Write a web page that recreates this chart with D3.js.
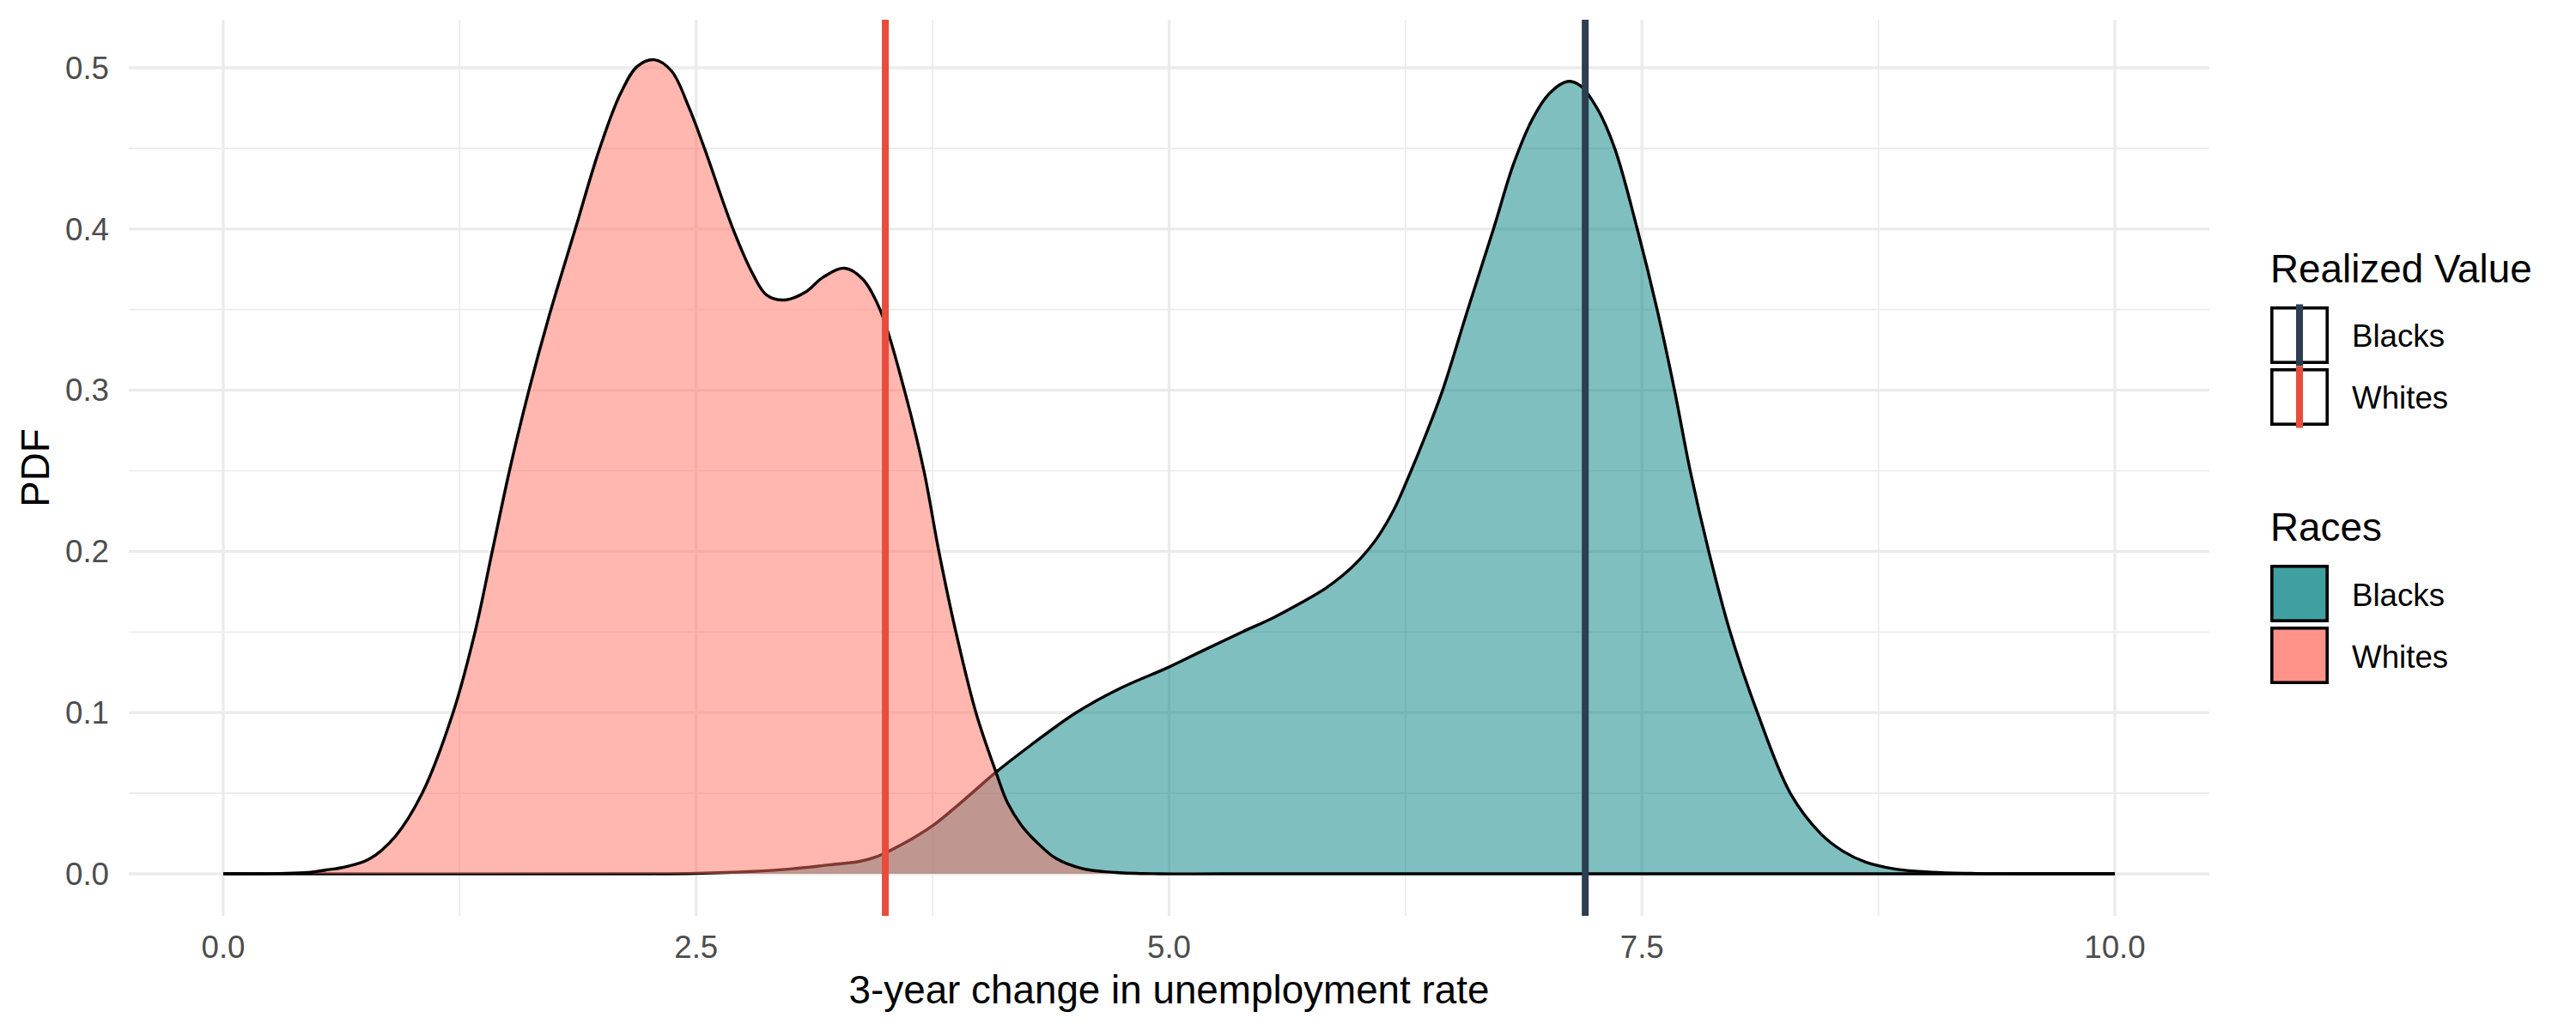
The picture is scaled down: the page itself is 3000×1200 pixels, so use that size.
<!DOCTYPE html>
<html>
<head>
<meta charset="utf-8">
<script src="https://cdn.jsdelivr.net/npm/d3@7"></script>
<style>
  html, body { margin: 0; padding: 0; background: #ffffff; }
  svg { display: block; font-family: "Liberation Sans", Arial, sans-serif; }
</style>
</head>
<body>
<svg id="chart" width="3000" height="1200"></svg>
<script>
// ---------- data ----------
const races = ["Blacks", "Whites"];
const raceFill = ["#008080", "#FF6F61"];
const lineColor = ["#2C3E50", "#E74C3C"];
const realizedValue = [7.2, 3.5];

const whitesX = [0.0, 0.15, 0.3, 0.45, 0.545, 0.635, 0.77, 0.908, 1.052, 1.215, 1.331, 1.422, 1.513, 1.616, 1.725, 1.861, 1.99, 2.10, 2.19, 2.28, 2.37, 2.46, 2.544, 2.695, 2.80, 2.873, 2.97, 3.08, 3.17, 3.285, 3.38, 3.472, 3.601, 3.704, 3.783, 3.873, 3.979, 4.085, 4.146, 4.22, 4.297, 4.40, 4.54, 4.72, 4.95, 5.3, 10.0];
const whitesY = [0, 0, 0.0002, 0.0008, 0.0024, 0.004, 0.009, 0.023, 0.05, 0.10, 0.15, 0.20, 0.25, 0.30, 0.347, 0.40, 0.45, 0.484, 0.501, 0.505, 0.498, 0.476, 0.45, 0.40, 0.372, 0.359, 0.356, 0.361, 0.370, 0.3757, 0.369, 0.35, 0.30, 0.25, 0.20, 0.15, 0.10, 0.063, 0.044, 0.030, 0.020, 0.0097, 0.0033, 0.0008, 0, 0, 0];

const blacksX = [0.0, 2.2, 2.5, 2.8, 3.0, 3.2, 3.359, 3.45, 3.518, 3.631, 3.752, 3.858, 3.957, 4.085, 4.267, 4.509, 4.75, 4.995, 5.18, 5.387, 5.553, 5.704, 5.826, 5.917, 6.007, 6.098, 6.189, 6.265, 6.356, 6.446, 6.579, 6.715, 6.82, 6.92, 7.01, 7.105, 7.173, 7.264, 7.356, 7.475, 7.58, 7.672, 7.755, 7.853, 7.966, 8.11, 8.284, 8.443, 8.564, 8.685, 8.836, 9.03, 9.26, 9.6, 10.0];
const blacksY = [0, 0, 0.0003, 0.0015, 0.003, 0.0055, 0.0076, 0.0104, 0.014, 0.021, 0.030, 0.040, 0.05, 0.063, 0.0796, 0.10, 0.1155, 0.128, 0.1385, 0.15, 0.159, 0.1685, 0.177, 0.185, 0.195, 0.208, 0.226, 0.246, 0.272, 0.30, 0.35, 0.40, 0.44, 0.468, 0.484, 0.4915, 0.489, 0.4746, 0.45, 0.40, 0.35, 0.30, 0.25, 0.20, 0.15, 0.10, 0.05, 0.0251, 0.0139, 0.0071, 0.003, 0.001, 0.0002, 0, 0];

const xTicks = [0, 2.5, 5, 7.5, 10];
const xMinor = [1.25, 3.75, 6.25, 8.75];
const yTicks = [0, 0.1, 0.2, 0.3, 0.4, 0.5];
const yMinor = [0.05, 0.15, 0.25, 0.35, 0.45];

const xTitle = "3-year change in unemployment rate";
const yTitle = "PDF";
const legendTitle1 = "Realized Value";
const legendTitle2 = "Races";

// ---------- scales ----------
const svg = d3.select("#chart");
const x = d3.scaleLinear().domain([0, 10]).range([260, 2463]);
const y = d3.scaleLinear().domain([0, 0.5]).range([1018, 79]);
const panel = { left: x(-0.5), right: x(10.5), top: 23, bottom: 1067 };

svg.append("rect").attr("width", 3000).attr("height", 1200).attr("fill", "#ffffff");

// ---------- grid ----------
const grid = svg.append("g");
grid.selectAll(".ymin").data(yMinor).join("line")
  .attr("x1", panel.left).attr("x2", panel.right)
  .attr("y1", d => y(d)).attr("y2", d => y(d))
  .attr("stroke", "#EBEBEB").attr("stroke-width", 1.7);
grid.selectAll(".xmin").data(xMinor).join("line")
  .attr("y1", panel.top).attr("y2", panel.bottom)
  .attr("x1", d => x(d)).attr("x2", d => x(d))
  .attr("stroke", "#EBEBEB").attr("stroke-width", 1.7);
grid.selectAll(".ymaj").data(yTicks).join("line")
  .attr("x1", panel.left).attr("x2", panel.right)
  .attr("y1", d => y(d)).attr("y2", d => y(d))
  .attr("stroke", "#EBEBEB").attr("stroke-width", 3.3);
grid.selectAll(".xmaj").data(xTicks).join("line")
  .attr("y1", panel.top).attr("y2", panel.bottom)
  .attr("x1", d => x(d)).attr("x2", d => x(d))
  .attr("stroke", "#EBEBEB").attr("stroke-width", 3.3);

// ---------- densities ----------
const series = [
  { name: races[0], pts: blacksX.map((v, i) => [v, blacksY[i]]), fill: raceFill[0] },
  { name: races[1], pts: whitesX.map((v, i) => [v, whitesY[i]]), fill: raceFill[1] }
];
const curve = d3.curveCatmullRom.alpha(0.5);
const area = d3.area().x(d => x(d[0])).y0(y(0)).y1(d => y(Math.max(0, d[1]))).curve(curve);
const line = d3.line().x(d => x(d[0])).y(d => y(d[1])).curve(curve);

series.forEach(s => {
  const g = svg.append("g");
  g.append("path").attr("d", area(s.pts)).attr("fill", s.fill).attr("fill-opacity", 0.5);
  g.append("path").attr("d", line(s.pts)).attr("fill", "none")
    .attr("stroke", "#000000").attr("stroke-width", 3.4).attr("stroke-linejoin", "round");
});

// ---------- realized value lines ----------
svg.selectAll(".vline").data(realizedValue).join("line")
  .attr("x1", d => x(d)).attr("x2", d => x(d))
  .attr("y1", panel.top).attr("y2", panel.bottom)
  .attr("stroke", (d, i) => lineColor[i]).attr("stroke-width", 8);

// ---------- axes text ----------
svg.selectAll(".ylab").data(yTicks).join("text")
  .attr("x", 127).attr("y", d => y(d)).attr("dy", "0.35em")
  .attr("text-anchor", "end").attr("font-size", 36.7).attr("fill", "#4D4D4D")
  .text(d => d3.format(".1f")(d));
svg.selectAll(".xlab").data(xTicks).join("text")
  .attr("x", d => x(d)).attr("y", 1116)
  .attr("text-anchor", "middle").attr("font-size", 36.7).attr("fill", "#4D4D4D")
  .text(d => d3.format(".1f")(d));

svg.append("text").attr("x", (panel.left + panel.right) / 2).attr("y", 1169)
  .attr("text-anchor", "middle").attr("font-size", 45.8).attr("fill", "#000000")
  .text(xTitle);
svg.append("text")
  .attr("transform", `translate(57, ${(panel.top + panel.bottom) / 2}) rotate(-90)`)
  .attr("text-anchor", "middle").attr("font-size", 45.8).attr("fill", "#000000")
  .text(yTitle);

// ---------- legends ----------
const lgX = 2644;
const keyW = 68;
const keyH = 72;
// legend 1
svg.append("text").attr("x", lgX).attr("y", 329).attr("font-size", 45.8).attr("fill", "#000").text(legendTitle1);
const l1Top = 354.5;
races.forEach((r, i) => {
  const top = l1Top + i * keyH;
  svg.append("rect").attr("x", lgX + 1.8).attr("y", top + 4.3).attr("width", keyW - 3.6).attr("height", keyH - 8.6)
    .attr("fill", "#ffffff").attr("stroke", "#000").attr("stroke-width", 3.6);
  svg.append("line").attr("x1", lgX + keyW / 2).attr("x2", lgX + keyW / 2)
    .attr("y1", top).attr("y2", top + keyH)
    .attr("stroke", lineColor[i]).attr("stroke-width", 8);
  svg.append("text").attr("x", 2739).attr("y", top + keyH / 2 + 13).attr("font-size", 36.7).attr("fill", "#000").text(r);
});
// legend 2
svg.append("text").attr("x", lgX).attr("y", 629.6).attr("font-size", 45.8).attr("fill", "#000").text(legendTitle2);
const l2Top = 655.5;
races.forEach((r, i) => {
  const top = l2Top + i * keyH;
  svg.append("rect").attr("x", lgX + 1.8).attr("y", top + 4.3).attr("width", keyW - 3.6).attr("height", keyH - 8.6)
    .attr("fill", raceFill[i]).attr("fill-opacity", 0.75).attr("stroke", "#000").attr("stroke-width", 3.6);
  svg.append("text").attr("x", 2739).attr("y", top + keyH / 2 + 14).attr("font-size", 36.7).attr("fill", "#000").text(r);
});
</script>
</body>
</html>
